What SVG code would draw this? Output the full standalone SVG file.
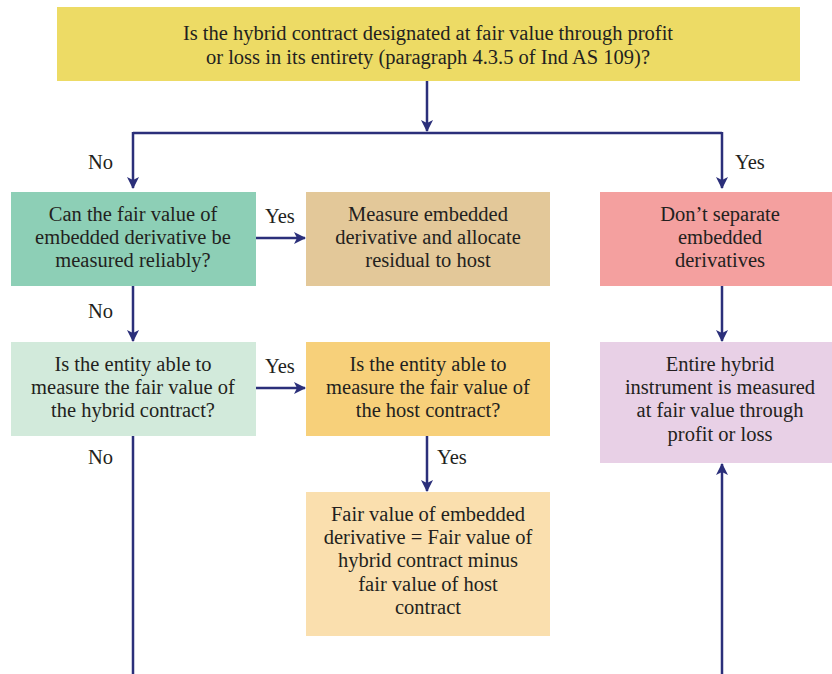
<svg xmlns="http://www.w3.org/2000/svg" width="832" height="674" viewBox="0 0 832 674" font-family="Liberation Serif, DejaVu Serif, serif" font-size="20.5">
<style>
text{fill:#231f20;text-anchor:middle}
.lbl{text-anchor:start}
.c{fill:none;stroke:#2b2f7a;stroke-width:2.5}
</style>
<defs>
<marker id="ah" viewBox="0 0 12 12" refX="11" refY="6" markerWidth="12" markerHeight="12" markerUnits="userSpaceOnUse" orient="auto">
<path d="M0,0 L12,6 L0,12 L3,6 z" fill="#2b2f7a"/>
</marker>
</defs>
<rect width="832" height="674" fill="#fff"/>
<g id="q1"><rect x="57" y="7" width="743" height="74" fill="#eddb65"/>
<text x="428" y="40">Is the hybrid contract designated at fair value through profit</text>
<text x="428" y="64">or loss in its entirety (paragraph 4.3.5 of Ind AS 109)?</text></g>
<g id="q2"><rect x="11" y="192" width="245" height="94" fill="#8dcfb6"/>
<text x="133" y="221">Can the fair value of</text><text x="133" y="244">embedded derivative be</text><text x="133" y="267">measured reliably?</text></g>
<g id="a1"><rect x="306" y="192" width="244" height="94" fill="#e3c899"/>
<text x="428" y="221">Measure embedded</text><text x="428" y="244">derivative and allocate</text><text x="428" y="267">residual to host</text></g>
<g id="a2"><rect x="600" y="192" width="232" height="94" fill="#f4a09f"/>
<text x="720" y="221">Don’t separate</text><text x="720" y="244">embedded</text><text x="720" y="267">derivatives</text></g>
<g id="q3"><rect x="11" y="342" width="245" height="94" fill="#d2eadb"/>
<text x="133" y="371">Is the entity able to</text><text x="133" y="394">measure the fair value of</text><text x="133" y="417">the hybrid contract?</text></g>
<g id="q4"><rect x="306" y="342" width="244" height="94" fill="#f7d07a"/>
<text x="428" y="371">Is the entity able to</text><text x="428" y="394">measure the fair value of</text><text x="428" y="417">the host contract?</text></g>
<g id="a3"><rect x="600" y="342" width="232" height="121" fill="#e8d0e6"/>
<text x="720" y="371">Entire hybrid</text><text x="720" y="394">instrument is measured</text><text x="720" y="417">at fair value through</text><text x="720" y="441">profit or loss</text></g>
<g id="a4"><rect x="306" y="492" width="244" height="144" fill="#fadfae"/>
<text x="428" y="521">Fair value of embedded</text><text x="428" y="544">derivative = Fair value of</text><text x="428" y="567">hybrid contract minus</text><text x="428" y="591">fair value of host</text><text x="428" y="614">contract</text></g>
<g id="connectors">
<path class="c" d="M427,81 V131" marker-end="url(#ah)"/>
<path class="c" d="M133,133 H722"/>
<path class="c" d="M133,132 V188" marker-end="url(#ah)"/>
<path class="c" d="M722,132 V188" marker-end="url(#ah)"/>
<path class="c" d="M256,238 H305" marker-end="url(#ah)"/>
<path class="c" d="M133,286 V341" marker-end="url(#ah)"/>
<path class="c" d="M722,286 V341" marker-end="url(#ah)"/>
<path class="c" d="M256,388 H305" marker-end="url(#ah)"/>
<path class="c" d="M427,436 V491" marker-end="url(#ah)"/>
<path class="c" d="M133,436 V674"/>
<path class="c" d="M722,674 V464" marker-end="url(#ah)"/>
<text class="lbl" x="88" y="169">No</text>
<text class="lbl" x="735" y="169">Yes</text>
<text class="lbl" x="265" y="223">Yes</text>
<text class="lbl" x="88" y="318">No</text>
<text class="lbl" x="265" y="373">Yes</text>
<text class="lbl" x="88" y="464">No</text>
<text class="lbl" x="437" y="464">Yes</text>
</g>
</svg>
